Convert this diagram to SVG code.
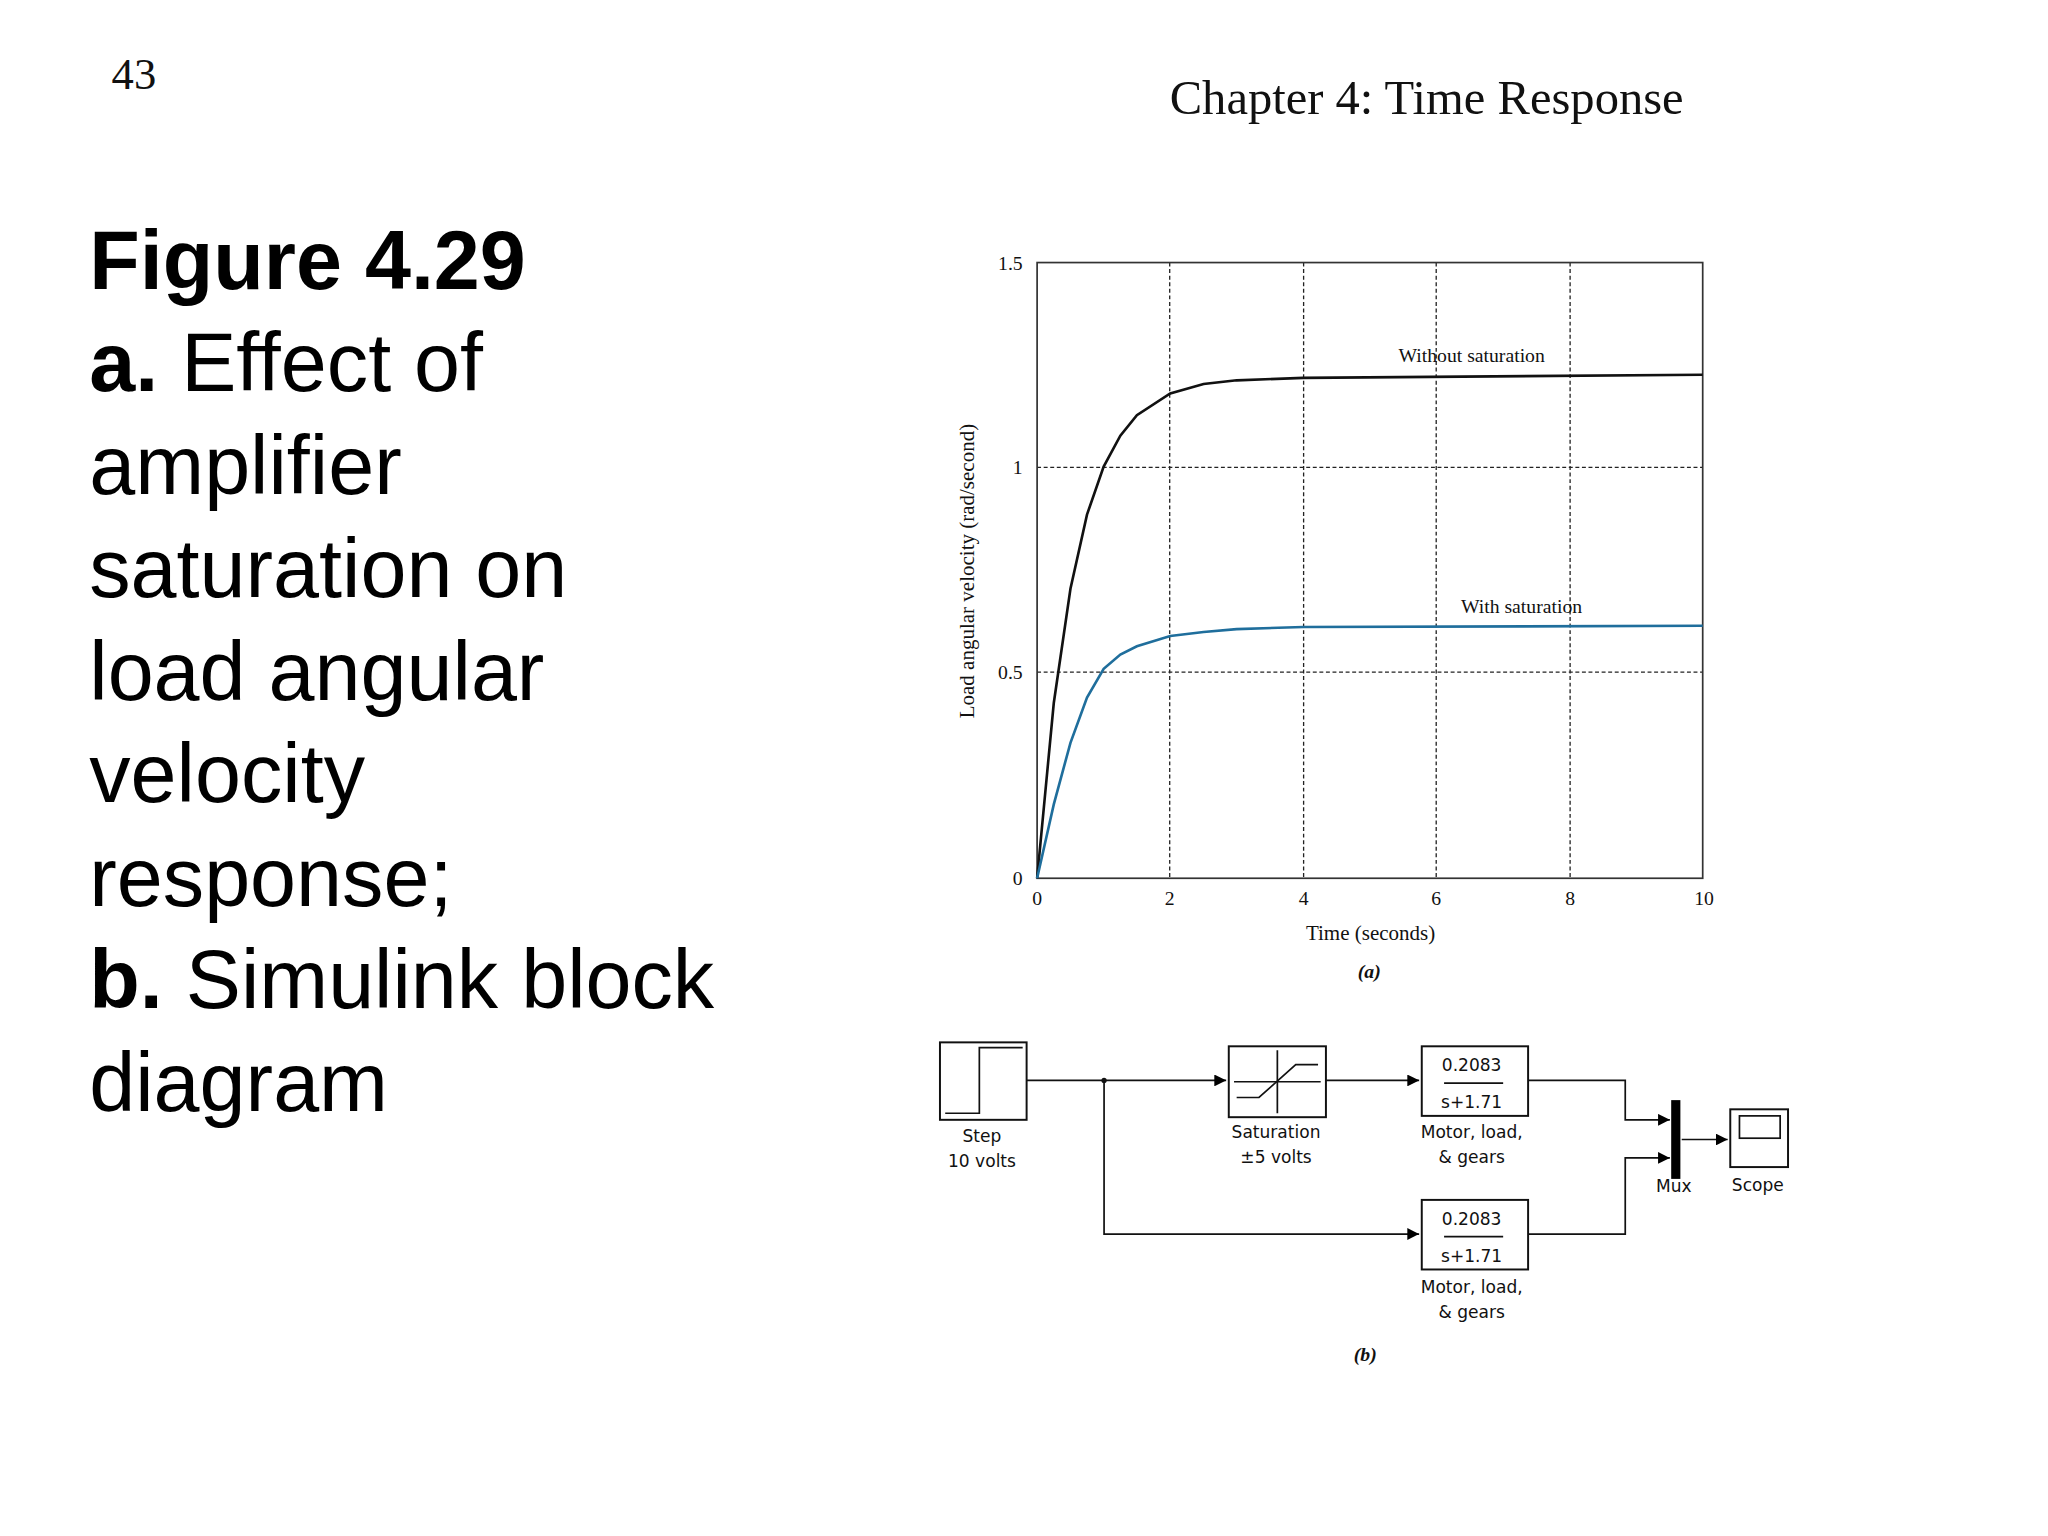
<svg xmlns="http://www.w3.org/2000/svg" width="2048" height="1536" viewBox="0 0 2048 1536">
<style>
.t{font-family:"Liberation Serif",serif;fill:#111}
.s{font-family:"DejaVu Sans","Liberation Sans",sans-serif;font-size:13px;fill:#111;text-anchor:middle}
.big{font-family:"Liberation Sans",Arial,sans-serif;font-size:63px;fill:#000}
.g{stroke:#222;stroke-width:1;stroke-dasharray:3,2;fill:none}
.w{stroke:#111;stroke-width:1.3;fill:none}
.b{stroke:#111;stroke-width:1.5;fill:#fff}
</style>
<defs><marker id="a" viewBox="0 0 10 10" refX="10" refY="5" markerWidth="9" markerHeight="9" markerUnits="userSpaceOnUse" orient="auto"><path d="M0,0L10,5L0,10z" fill="#000"/></marker></defs>
<rect width="2048" height="1536" fill="#fff"/>
<g transform="scale(1.3128)">
<text class="t" x="85" y="68" font-size="34">43</text>
<text class="t" x="891" y="87" font-size="37">Chapter 4: Time Response</text>
<g class="big">
<text x="68" y="220" font-weight="bold">Figure 4.29</text>
<text x="68" y="298"><tspan font-weight="bold">a.</tspan> Effect of</text>
<text x="68" y="376">amplifier</text>
<text x="68" y="455">saturation on</text>
<text x="68" y="533">load angular</text>
<text x="68" y="611">velocity</text>
<text x="68" y="690">response;</text>
<text x="68" y="768"><tspan font-weight="bold">b.</tspan> Simulink block</text>
<text x="68" y="846">diagram</text>
</g>
<g id="plot">
<path class="g" d="M891,200V669M993,200V669M1094,200V669M1196,200V669M790,356H1297M790,512H1297"/>
<rect x="790" y="200" width="507" height="469" fill="none" stroke="#333" stroke-width="1.3"/>
<g class="t" font-size="15" text-anchor="middle">
<text x="790" y="689">0</text><text x="891" y="689">2</text><text x="993" y="689">4</text><text x="1094" y="689">6</text><text x="1196" y="689">8</text><text x="1298" y="689">10</text>
<text x="1044" y="716" font-size="16">Time (seconds)</text>
<text x="1043" y="745" font-weight="bold" font-style="italic">(a)</text>
<text x="1121" y="276">Without saturation</text>
<text x="1159" y="467">With saturation</text>
</g>
<g class="t" font-size="15" text-anchor="end">
<text x="779" y="206">1.5</text><text x="779" y="361">1</text><text x="779" y="517">0.5</text><text x="779" y="674">0</text>
</g>
<text class="t" font-size="16" text-anchor="middle" transform="translate(742,435) rotate(-90)">Load angular velocity (rad/second)</text>
<polyline fill="none" stroke="#111" stroke-width="2" points="790,669 802.7,535.5 815.4,448.5 828,392 840.7,355.4 853.4,331.9 866,316.3 891.4,299.7 916.8,292.5 942,289.7 992.8,287.8 1297,285.5"/>
<polyline fill="none" stroke="#1f6e9c" stroke-width="2" points="790,669 802.7,612.7 815.4,565.8 828,531.4 840.7,509.5 853.4,498.6 866,492.3 891.4,484.5 916.8,481.4 942,479.2 992.8,477.6 1297,476.7"/>
</g>
<g id="connectors">
<path class="w" d="M782,823H934" marker-end="url(#a)"/>
<path class="w" d="M841,823V940H1081" marker-end="url(#a)"/>
<circle cx="841" cy="823" r="2" fill="#111"/>
<path class="w" d="M1010,823H1081" marker-end="url(#a)"/>
<path class="w" d="M1164,823H1238V853H1272" marker-end="url(#a)"/>
<path class="w" d="M1164,940H1238V882H1272" marker-end="url(#a)"/>
<path class="w" d="M1281,868H1316" marker-end="url(#a)"/>
</g>
<g id="step"><rect class="b" x="716" y="794" width="66" height="59"/><polyline class="w" points="720,848 746,848 746,798 779,798"/><text class="s" x="748" y="870">Step</text><text class="s" x="748" y="889">10 volts</text></g>
<g id="sat"><rect class="b" x="936" y="797" width="74" height="54"/><path class="w" d="M940,824H1006M973,800V848" stroke-width="0.8"/><polyline class="w" points="942,836 959,836 987,811 1004,811"/><text class="s" x="972" y="867">Saturation</text><text class="s" x="972" y="886">±5 volts</text></g>
<g id="motor1"><rect class="b" x="1083" y="797" width="81" height="53"/><text class="s" x="1121" y="816">0.2083</text><path class="w" d="M1100,825H1145"/><text class="s" x="1121" y="844">s+1.71</text><text class="s" x="1121" y="867">Motor, load,</text><text class="s" x="1121" y="886">&amp; gears</text></g>
<g id="motor2"><rect class="b" x="1083" y="914" width="81" height="53"/><text class="s" x="1121" y="933">0.2083</text><path class="w" d="M1100,942H1145"/><text class="s" x="1121" y="961">s+1.71</text><text class="s" x="1121" y="985">Motor, load,</text><text class="s" x="1121" y="1004">&amp; gears</text></g>
<g id="mux"><rect x="1273" y="838" width="7" height="60" fill="#000"/><text class="s" x="1275" y="908">Mux</text></g>
<g id="scope"><rect class="b" x="1318" y="845" width="44" height="44"/><rect class="w" x="1325" y="850" width="31" height="17"/><text class="s" x="1339" y="907">Scope</text></g>
<text class="t" x="1040" y="1037" font-size="15" font-weight="bold" font-style="italic" text-anchor="middle">(b)</text>
</g>
</svg>
